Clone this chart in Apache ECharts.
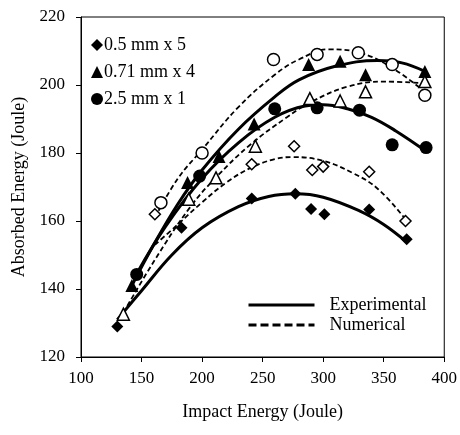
<!DOCTYPE html>
<html>
<head>
<meta charset="utf-8">
<script src="https://cdn.jsdelivr.net/npm/echarts@6/dist/echarts.min.js"></script>
<style>html,body{margin:0;padding:0;background:#fff;}#c{width:460px;height:435px;}</style>
</head>
<body>
<div id="c"></div>
<script>
// Tick values
var xTicks = [100, 150, 200, 250, 300, 350, 400];
var yTicks = [120, 140, 160, 180, 200, 220];

// Marker series names (legend)
var seriesNames = ["0.5 mm x 5", "0.71 mm x 4", "2.5 mm x 1"];
var styleNames = ["Experimental", "Numerical"];

// Measured points [impact energy, absorbed energy]
var exp05 = [[130,129],[183,158],[241,166.6],[277,168],[290,163.5],[301,162],[338,163.4],[369,154.6]];
var num05 = [[161,162],[241,176.7],[276,182],[291,175],[300,176],[338,174.5],[368,160]];
var exp071 = [[142,141],[188,171.3],[214,179],[243,188.5],[288,206],[314,207],[335,203],[384,204]];
var num071 = [[135,132.6],[189,166.4],[211.5,172.7],[244,182],[289,196],[314,195.3],[335,198],[384,201]];
var exp25 = [[146,144.3],[198,173.2],[260,193],[295,193.3],[330,192.6],[357,182.4],[385,181.6]];
var num25 = [[166,165.4],[200,180],[259,207.5],[295,209],[329,209.5],[357,206],[384,197]];

// Trend curves
var exp05Curve = [[130,131],[150,139.5],[175,150],[200,158],[230,164.2],[255,167.2],[277,168],[300,167],[330,163],[350,159],[369,153.8]];
var num05Curve = [[161,153],[180,159],[200,165.5],[220,171.3],[240,175.6],[260,178.2],[275,178.8],[300,177.7],[325,174],[345,169.5],[368,160.5]];
var exp071Curve = [[142,141],[160,153],[180,165],[200,175],[230,187],[260,196.5],[280,201.5],[310,205.5],[345,207.2],[365,206.5],[384,204]];
var num071Curve = [[135,133],[160,148],[190,164],[212,173],[240,182.5],[270,190.5],[290,195],[320,199.5],[350,201],[384,200.5]];
var exp25Curve = [[146,144.5],[170,158.5],[200,172.5],[230,183],[260,190.5],[285,193.8],[300,194.2],[320,193],[340,190.5],[360,186.5],[385,180.5]];
var num25Curve = [[161,161],[180,172.5],[200,181],[230,193.5],[260,203],[280,207.5],[305,210.5],[330,209.5],[355,205.5],[384,198]];

var FONT = '"Liberation Serif", "Times New Roman", serif';

function curve(name, data, dashed) {
  return {
    name: name, type: 'line', data: data, smooth: 0.4, symbol: 'none', z: 2,
    lineStyle: dashed ? {color: '#000', width: 1.8, type: [5, 3], opacity: 1} : {color: '#000', width: 3, type: 'solid', opacity: 1},
    itemStyle: {color: '#000'}
  };
}
function marks(name, data, symbol, size, filled) {
  return {
    name: name, type: 'scatter', data: data, symbol: symbol, symbolSize: size, z: 5,
    itemStyle: filled ? {color: '#000', borderColor: '#000', borderWidth: 0, opacity: 1}
                      : {color: '#fff', borderColor: '#000', borderWidth: 1.5, opacity: 1}
  };
}

var chart = echarts.init(document.getElementById('c'), null, {renderer: 'canvas'});
chart.setOption({
  animation: false,
  backgroundColor: '#fff',
  textStyle: {fontFamily: FONT},
  grid: {left: 81, right: 14, top: 17, bottom: 78, show: true, borderColor: '#000', borderWidth: 1, backgroundColor: 'transparent'},
  xAxis: {
    type: 'value', min: xTicks[0], max: xTicks[xTicks.length - 1], interval: 50,
    name: 'Impact Energy (Joule)', nameLocation: 'middle', nameGap: 46,
    nameTextStyle: {fontFamily: FONT, fontSize: 18, color: '#000'},
    axisLine: {show: true, lineStyle: {color: '#000', width: 1}},
    axisTick: {show: true, inside: false, length: 5, lineStyle: {color: '#000'}},
    axisLabel: {fontFamily: FONT, fontSize: 17, color: '#000', margin: 13},
    splitLine: {show: false}
  },
  yAxis: {
    type: 'value', min: yTicks[0], max: yTicks[yTicks.length - 1], interval: 20,
    name: 'Absorbed Energy (Joule)', nameLocation: 'middle', nameGap: 50, nameRotate: 90,
    nameTextStyle: {fontFamily: FONT, fontSize: 18, color: '#000'},
    axisLine: {show: true, lineStyle: {color: '#000', width: 1}},
    axisTick: {show: true, inside: false, length: 5, lineStyle: {color: '#000'}},
    axisLabel: {fontFamily: FONT, fontSize: 17, color: '#000', margin: 16},
    splitLine: {show: false}
  },
  legend: [
    {
      data: [
        {name: seriesNames[0], itemStyle: {color: '#000', opacity: 1}},
        {name: seriesNames[1], itemStyle: {color: '#000', opacity: 1}},
        {name: seriesNames[2], itemStyle: {color: '#000', opacity: 1}}
      ],
      orient: 'vertical', left: 86, top: 31, itemWidth: 12, itemHeight: 12, itemGap: 9,
      textStyle: {fontFamily: FONT, fontSize: 18, color: '#000', padding: [0, 0, 0, -4]},
      selectedMode: false
    },
    {
      data: [
        {name: styleNames[0], itemStyle: {opacity: 0}, lineStyle: {color: '#000', width: 3, type: 'solid', opacity: 1}},
        {name: styleNames[1], itemStyle: {opacity: 0}, lineStyle: {color: '#000', width: 3, type: [8, 4], opacity: 1}}
      ],
      orient: 'vertical', left: 242, top: 291, itemWidth: 66, itemHeight: 14, itemGap: 2,
      textStyle: {fontFamily: FONT, fontSize: 18, color: '#000', padding: [0, 0, 0, 10]},
      selectedMode: false
    }
  ],
  series: [
    curve('Experimental', exp05Curve, false),
    curve('Experimental', exp071Curve, false),
    curve('Experimental', exp25Curve, false),
    curve('Numerical', num05Curve, true),
    curve('Numerical', num071Curve, true),
    curve('Numerical', num25Curve, true),
    marks(seriesNames[0], exp05, 'diamond', 12, true),
    marks(seriesNames[1], exp071, 'triangle', 13, true),
    marks(seriesNames[2], exp25, 'circle', 13, true),
    marks('num05', num05, 'diamond', 11, false),
    marks('num071', num071, 'triangle', 12, false),
    marks('num25', num25, 'circle', 12, false)
  ]
});
</script>
</body>
</html>
